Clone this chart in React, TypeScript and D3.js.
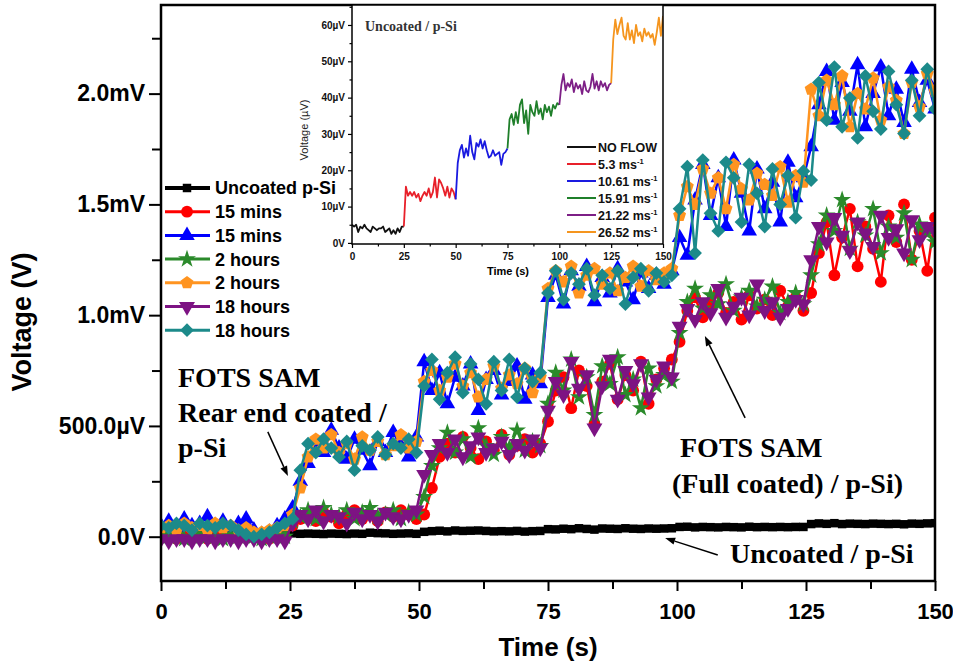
import React, { useEffect, useRef } from 'react';
import * as d3 from 'd3';

const W = 953;
const H = 670;

// Sampling interval of the main recordings (s)
const TIME_STEP = 1.5;

// Main chart: voltage in mV, one sample every TIME_STEP seconds from 0 to 150 s
const uncoatedPSi = [
  0.005, 0.004, 0.005, 0.003, 0.004, 0.004, 0.005, 0.004, 0.003, 0.004, 0.004, 0.003, 0.004, 0.003, 0.004, 0.003, 0.004,
  0.015, 0.013, 0.014, 0.013, 0.012, 0.014, 0.013, 0.012, 0.014, 0.013, 0.018, 0.016, 0.015, 0.013, 0.014, 0.015, 0.013,
  0.022, 0.025, 0.027, 0.024, 0.028, 0.026, 0.027, 0.028, 0.026, 0.024, 0.025, 0.024, 0.026, 0.023, 0.025, 0.026,
  0.034, 0.033, 0.036, 0.034, 0.038, 0.035, 0.032, 0.037, 0.036, 0.035, 0.038, 0.036, 0.035, 0.037, 0.036, 0.037, 0.038,
  0.044, 0.045, 0.042, 0.044, 0.043, 0.042, 0.044, 0.043, 0.042, 0.045, 0.043, 0.044, 0.043, 0.044, 0.043, 0.044, 0.044,
  0.057, 0.060, 0.058, 0.061, 0.057, 0.059, 0.058, 0.057, 0.059, 0.058, 0.057, 0.058, 0.056, 0.059, 0.058, 0.060, 0.061,
];

const full15min = [
  0.00, 0.01, -0.01, 0.00, 0.01, 0.00, -0.01, 0.00, 0.01, 0.00, -0.01, 0.00, 0.00, 0.01, -0.01, 0.00, 0.00,
  0.05, 0.08, 0.10, 0.07, 0.11, 0.09, 0.06, 0.10, 0.12, 0.08, 0.10, 0.07, 0.11, 0.09, 0.12, 0.10, 0.08,
  0.10, 0.22, 0.36, 0.42, 0.38, 0.45, 0.40, 0.35, 0.43, 0.39, 0.46, 0.37, 0.41, 0.44, 0.38, 0.42,
  0.52, 0.66, 0.72, 0.58, 0.75, 0.68, 0.51, 0.70, 0.78, 0.62, 0.73, 0.66, 0.79, 0.60, 0.71, 0.76, 0.80,
  0.88, 1.02, 1.08, 0.99, 1.05, 1.10, 1.01, 1.06, 0.98, 1.09, 1.03, 1.07, 1.00, 1.11, 1.04, 1.08, 1.02,
  1.10, 1.28, 1.42, 1.18, 1.35, 1.48, 1.22, 1.40, 1.30, 1.15, 1.45, 1.33, 1.50, 1.25, 1.38, 1.20, 1.44,
];

const rear15min = [
  0.05, 0.07, 0.04, 0.08, 0.05, 0.06, 0.09, 0.05, 0.07, 0.04, 0.06, 0.08, 0.03, 0.01, 0.02, 0.05, 0.08,
  0.13, 0.25, 0.33, 0.42, 0.38, 0.48, 0.40, 0.35, 0.44, 0.39, 0.32, 0.43, 0.38, 0.47, 0.41, 0.36, 0.45,
  0.79, 0.66, 0.74, 0.60, 0.72, 0.68, 0.78, 0.57, 0.71, 0.75, 0.64, 0.70, 0.77, 0.62, 0.73, 0.69,
  1.08, 1.18, 1.05, 1.20, 1.13, 1.22, 1.06, 1.17, 1.10, 1.21, 1.15, 1.07, 1.19, 1.12, 1.18, 1.14, 1.20,
  1.35, 1.27, 1.52, 1.68, 1.45, 1.62, 1.40, 1.70, 1.55, 1.38, 1.66, 1.48, 1.60, 1.42, 1.69, 1.53, 1.62,
  1.76, 1.95, 2.10, 1.88, 2.05, 1.92, 2.13, 1.85, 2.00, 2.12, 1.90, 2.02, 1.87, 2.11, 1.96, 2.06, 1.93,
];

const full2h = [
  0.01, 0.00, 0.01, -0.01, 0.00, 0.01, 0.00, 0.00, -0.01, 0.01, 0.00, 0.01, 0.00, -0.01, 0.00, 0.01, 0.00,
  0.07, 0.09, 0.12, 0.08, 0.13, 0.10, 0.09, 0.12, 0.08, 0.11, 0.13, 0.09, 0.10, 0.12, 0.08, 0.11, 0.10,
  0.18, 0.32, 0.40, 0.47, 0.38, 0.44, 0.36, 0.49, 0.41, 0.37, 0.45, 0.40, 0.48, 0.39, 0.43, 0.41,
  0.60, 0.74, 0.66, 0.80, 0.63, 0.72, 0.55, 0.77, 0.69, 0.81, 0.64, 0.71, 0.58, 0.76, 0.68, 0.73, 0.70,
  0.92, 1.06, 1.12, 1.03, 1.09, 1.05, 1.14, 1.02, 1.08, 1.11, 1.04, 1.07, 1.13, 1.01, 1.06, 1.10, 1.05,
  1.18, 1.32, 1.45, 1.38, 1.52, 1.30, 1.42, 1.36, 1.48, 1.28, 1.40, 1.35, 1.46, 1.25, 1.41, 1.37, 1.33,
];

const rear2h = [
  0.04, 0.05, 0.03, 0.06, 0.04, 0.05, 0.03, 0.06, 0.04, 0.05, 0.03, 0.04, 0.02, 0.02, 0.03, 0.04, 0.05,
  0.10, 0.22, 0.36, 0.44, 0.40, 0.46, 0.38, 0.42, 0.35, 0.45, 0.39, 0.43, 0.37, 0.41, 0.46, 0.40, 0.43,
  0.70, 0.75, 0.66, 0.72, 0.78, 0.68, 0.74, 0.63, 0.71, 0.77, 0.67, 0.73, 0.69, 0.76, 0.65, 0.72,
  1.12, 1.20, 1.15, 1.22, 1.10, 1.18, 1.21, 1.14, 1.19, 1.11, 1.17, 1.22, 1.13, 1.20, 1.16, 1.19, 1.21,
  1.45, 1.58, 1.50, 1.66, 1.55, 1.62, 1.48, 1.68, 1.57, 1.52, 1.64, 1.59, 1.54, 1.67, 1.51, 1.63, 1.60,
  2.02, 1.90, 2.06, 1.95, 2.08, 1.85, 2.00, 1.93, 2.07, 1.88, 2.03, 1.97, 1.82, 2.05, 1.94, 2.09, 2.01,
];

const full18h = [
  -0.01, -0.02, -0.01, -0.01, -0.02, -0.01, -0.01, -0.02, -0.01, -0.01, -0.02, -0.01, -0.01, -0.02, -0.01, -0.01, -0.02,
  0.06, 0.10, 0.08, 0.12, 0.07, 0.10, 0.09, 0.06, 0.11, 0.08, 0.10, 0.07, 0.11, 0.09, 0.08, 0.10, 0.12,
  0.28, 0.37, 0.42, 0.38, 0.44, 0.36, 0.41, 0.45, 0.38, 0.40, 0.43, 0.37, 0.42, 0.39, 0.44, 0.40,
  0.57, 0.70, 0.64, 0.79, 0.67, 0.73, 0.49, 0.68, 0.80, 0.62, 0.75, 0.69, 0.78, 0.63, 0.71, 0.77, 0.72,
  0.95, 1.03, 0.98, 1.06, 1.01, 1.12, 0.99, 1.04, 1.08, 1.00, 1.14, 1.02, 1.06, 0.99, 1.03, 1.07, 1.05,
  1.25, 1.40, 1.33, 1.44, 1.36, 1.29, 1.42, 1.37, 1.31, 1.45, 1.35, 1.39, 1.28, 1.43, 1.34, 1.40, 1.38,
];

const rear18h = [
  0.05, 0.04, 0.06, 0.05, 0.03, 0.06, 0.05, 0.04, 0.06, 0.05, 0.03, 0.01, 0.00, 0.01, 0.02, 0.04, 0.06,
  0.08, 0.30, 0.42, 0.38, 0.44, 0.40, 0.36, 0.43, 0.30, 0.41, 0.39, 0.45, 0.37, 0.42, 0.40, 0.44, 0.38,
  0.68, 0.80, 0.62, 0.74, 0.81, 0.65, 0.78, 0.71, 0.60, 0.79, 0.66, 0.80, 0.63, 0.76, 0.70, 0.74,
  1.10, 1.20, 1.07, 1.19, 1.14, 1.21, 1.09, 1.18, 1.12, 1.20, 1.05, 1.17, 1.21, 1.11, 1.19, 1.15, 1.18,
  1.48, 1.67, 1.28, 1.70, 1.46, 1.38, 1.69, 1.62, 1.42, 1.68, 1.55, 1.40, 1.66, 1.50, 1.63, 1.44, 1.65,
  1.61, 2.05, 1.88, 2.12, 1.85, 1.98, 1.80, 2.08, 1.92, 1.84, 2.10, 1.95, 1.82, 2.06, 1.90, 2.11, 1.93,
];

// Series in drawing / legend order
const seriesValues = [uncoatedPSi, full15min, rear15min, full2h, rear2h, full18h, rear18h];
const seriesNames = ['Uncoated p-Si', '15 mins', '15 mins', '2 hours', '2 hours', '18 hours', '18 hours'];
const seriesColors = ['#000000', '#ff0000', '#0000ff', '#2b8a2b', '#ff9420', '#7d1383', '#1c8a8a'];
const seriesSymbols = ['square', 'circle', 'triangle', 'star', 'pentagon', 'triangleDown', 'diamond'];

const xTickValues = [0, 25, 50, 75, 100, 125, 150];
const yTickValues = [0, 0.5, 1.0, 1.5, 2.0];
const yTickLabels = ['0.0V', '500.0\u00b5V', '1.0mV', '1.5mV', '2.0mV'];

// Inset: uncoated p-Si, voltage in µV, one sample per second from 0 to 150 s
const insetVoltage = [
  5, 4.5, 5, 3, 4.5, 4, 5, 4, 3.5, 3, 4.5, 4, 3.5, 4, 4, 4.5, 3, 3.5, 4, 2.5, 3.5, 2.5, 4, 3, 4.5, 4.5,
  15.5, 13, 14, 13, 14, 12.5, 13.5, 11.5, 13, 14, 13, 15, 12.5, 14, 18, 12.5, 17.5, 16.5, 15, 13, 15.5, 12.5, 15, 14, 12,
  22, 25.5, 27, 23.5, 26, 24, 29.5, 25, 23, 27.5, 26.5, 28.5, 26, 28, 25.5, 23.5, 24, 25.5, 24, 24.5, 25, 21.5, 24.5, 25, 26,
  34, 35.5, 32.5, 36, 33, 38, 39.5, 33, 36.5, 30, 38, 36, 35, 39, 35.5, 37, 34, 38, 36, 37.5, 35, 38, 37, 38.5, 38,
  43.5, 46.5, 42, 44, 43, 45, 41.5, 44, 42.5, 43.5, 41, 44.5, 42, 41.5, 43, 46.5, 42.5, 44.5, 42, 44.5, 43, 44, 42, 43.5, 44,
  56, 61.5, 57.5, 60, 62, 57, 56, 60.5, 56, 58.5, 55, 60, 57, 58, 55.5, 59, 57, 58, 56.5, 57.5, 54.5, 58, 62, 57, 62.5,
];
const flowLabels = ['NO FLOW', '5.3 ms', '10.61 ms', '15.91 ms', '21.22 ms', '26.52 ms'];
const flowHasUnit = [false, true, true, true, true, true];
const flowColors = ['#111111', '#e8202a', '#1a1ae0', '#1f7f2a', '#7d1f86', '#f5951e'];
const flowStart = [0, 25, 50, 75, 100, 125];
const insetXTicks = [0, 25, 50, 75, 100, 125, 150];
const insetYTicks = [0, 10, 20, 30, 40, 50, 60];
const insetYLabels = ['0V', '10\u00b5V', '20\u00b5V', '30\u00b5V', '40\u00b5V', '50\u00b5V', '60\u00b5V'];

const SANS = "'Liberation Sans', Arial, sans-serif";
const SERIF = "'Liberation Serif', 'Times New Roman', serif";

function pentagonPath(r: number) {
  const pts = d3.range(5).map((k) => {
    const a = -Math.PI / 2 + (k * 2 * Math.PI) / 5;
    return [r * Math.cos(a), r * Math.sin(a)];
  });
  return 'M' + pts.map((p) => p[0].toFixed(2) + ',' + p[1].toFixed(2)).join('L') + 'Z';
}

function markerShape(kind: string): { d: string; rot: number } {
  switch (kind) {
    case 'square':
      return { d: d3.symbol(d3.symbolSquare, 72)()!, rot: 0 };
    case 'circle':
      return { d: d3.symbol(d3.symbolCircle, 110)()!, rot: 0 };
    case 'triangle':
      return { d: d3.symbol(d3.symbolTriangle, 105)()!, rot: 0 };
    case 'star':
      return { d: d3.symbol(d3.symbolStar, 100)()!, rot: 0 };
    case 'pentagon':
      return { d: pentagonPath(6.8), rot: 0 };
    case 'triangleDown':
      return { d: d3.symbol(d3.symbolTriangle, 110)()!, rot: 180 };
    case 'diamond':
    default:
      return { d: d3.symbol(d3.symbolSquare, 95)()!, rot: 45 };
  }
}

export default function App() {
  const ref = useRef<SVGSVGElement>(null);

  useEffect(() => {
    const svg = d3.select(ref.current!);
    svg.selectAll('*').remove();

    const x = d3.scaleLinear().domain([0, 150]).range([161, 935]);
    const y = d3.scaleLinear().domain([-0.2, 2.4]).range([581, 5]);

    svg.append('rect').attr('width', W).attr('height', H).attr('fill', '#ffffff');

    const defs = svg.append('defs');
    defs.append('clipPath').attr('id', 'main-clip')
      .append('rect').attr('x', 161).attr('y', 5).attr('width', 774).attr('height', 576);
    defs.append('clipPath').attr('id', 'inset-clip')
      .append('rect').attr('x', 352).attr('y', 5).attr('width', 311).attr('height', 239);

    // ---- main axes ----
    const styleAxis = (g: d3.Selection<SVGGElement, unknown, null, undefined>, size: number) => {
      g.select('.domain').remove();
      g.selectAll('line').attr('stroke', '#000').attr('stroke-width', 2);
      g.selectAll('text').attr('font-family', SANS).attr('font-weight', 'bold')
        .attr('font-size', size).attr('fill', '#000');
    };

    const gx = svg.append('g').attr('transform', 'translate(0,581)')
      .call(d3.axisBottom(x).tickValues(xTickValues).tickSize(10).tickPadding(12).tickFormat((d) => String(d)));
    styleAxis(gx, 22);
    const gxm = svg.append('g').attr('transform', 'translate(0,581)')
      .call(d3.axisBottom(x).tickValues(xTickValues.slice(0, -1).map((v) => v + 12.5)).tickSize(8).tickFormat(() => ''));
    styleAxis(gxm, 22);

    const gy = svg.append('g').attr('transform', 'translate(161,0)')
      .call(d3.axisLeft(y).tickValues(yTickValues).tickSize(12).tickPadding(4)
        .tickFormat((_d, i) => yTickLabels[i]));
    styleAxis(gy, 23);
    const gym = svg.append('g').attr('transform', 'translate(161,0)')
      .call(d3.axisLeft(y).tickValues([0.25, 0.75, 1.25, 1.75, 2.25]).tickSize(9).tickFormat(() => ''));
    styleAxis(gym, 23);

    // ---- series ----
    const plot = svg.append('g').attr('clip-path', 'url(#main-clip)');
    seriesValues.forEach((vals, s) => {
      const pts = vals.map((v, i) => [i * TIME_STEP, v] as [number, number]);
      const line = d3.line<[number, number]>().x((p) => x(p[0])).y((p) => y(p[1]));
      plot.append('path').attr('d', line(pts)!).attr('fill', 'none')
        .attr('stroke', seriesColors[s]).attr('stroke-width', s === 0 ? 5 : 2.5)
        .attr('stroke-linejoin', 'round');
      const shape = markerShape(seriesSymbols[s]);
      plot.append('g').selectAll('path').data(pts).join('path')
        .attr('d', shape.d)
        .attr('transform', (p) => `translate(${x(p[0])},${y(p[1])}) rotate(${shape.rot})`)
        .attr('fill', seriesColors[s]);
    });

    // frame
    svg.append('rect').attr('x', 161).attr('y', 5).attr('width', 774).attr('height', 576)
      .attr('fill', 'none').attr('stroke', '#000').attr('stroke-width', 2.5);

    // ---- axis titles ----
    svg.append('text').attr('x', 548).attr('y', 656).attr('text-anchor', 'middle')
      .attr('font-family', SANS).attr('font-weight', 'bold').attr('font-size', 26).text('Time (s)');
    svg.append('text').attr('transform', 'translate(31,322) rotate(-90)').attr('text-anchor', 'middle')
      .attr('font-family', SANS).attr('font-weight', 'bold').attr('font-size', 27).text('Voltage (V)');

    // ---- legend ----
    const legend = svg.append('g');
    seriesNames.forEach((name, s) => {
      const ly = 188 + s * 23.7;
      legend.append('line').attr('x1', 165).attr('x2', 210).attr('y1', ly).attr('y2', ly)
        .attr('stroke', seriesColors[s]).attr('stroke-width', s === 0 ? 4 : 3);
      const shape = markerShape(seriesSymbols[s]);
      legend.append('path').attr('d', shape.d)
        .attr('transform', `translate(187,${ly}) rotate(${shape.rot})`).attr('fill', seriesColors[s]);
      legend.append('text').attr('x', 215).attr('y', ly).attr('dy', '0.36em')
        .attr('font-family', SANS).attr('font-weight', 'bold').attr('font-size', 18).text(name);
    });

    // ---- annotations ----
    const serifText = (tx: number, ty: number, str: string) =>
      svg.append('text').attr('x', tx).attr('y', ty).attr('font-family', SERIF)
        .attr('font-weight', 'bold').attr('font-size', 28).attr('fill', '#000').text(str);
    serifText(178, 387, 'FOTS SAM');
    serifText(178, 422, 'Rear end coated /');
    serifText(178, 457, 'p-Si');
    serifText(680, 457, 'FOTS SAM');
    serifText(672, 493, '(Full coated) / p-Si)');
    serifText(730, 563, 'Uncoated / p-Si');

    const arrow = (t0: number, v0: number, t1: number, v1: number) => {
      const x0 = x(t0), y0 = y(v0), x1 = x(t1), y1 = y(v1);
      const ang = Math.atan2(y1 - y0, x1 - x0);
      const len = 10, half = 3.6;
      const bx = x1 - len * Math.cos(ang), by = y1 - len * Math.sin(ang);
      svg.append('line').attr('x1', x0).attr('y1', y0).attr('x2', bx).attr('y2', by)
        .attr('stroke', '#000').attr('stroke-width', 1.5);
      svg.append('path')
        .attr('d', `M${x1},${y1}L${bx - half * Math.sin(ang)},${by + half * Math.cos(ang)}L${bx + half * Math.sin(ang)},${by - half * Math.cos(ang)}Z`)
        .attr('fill', '#000');
    };
    arrow(20.7, 0.473, 24.6, 0.274);
    arrow(113.2, 0.536, 105.4, 0.906);
    arrow(107.9, -0.083, 97.7, -0.006);

    // ---- inset ----
    const xi = d3.scaleLinear().domain([0, 150]).range([352, 663]);
    const yi = d3.scaleLinear().domain([-0.3, 65.5]).range([244, 5]);
    svg.append('rect').attr('x', 352).attr('y', 5).attr('width', 311).attr('height', 239).attr('fill', '#fff');

    const styleInset = (g: d3.Selection<SVGGElement, unknown, null, undefined>, size: number) => {
      g.select('.domain').remove();
      g.selectAll('line').attr('stroke', '#000').attr('stroke-width', 1.2);
      g.selectAll('text').attr('font-family', SANS).attr('font-weight', 'bold')
        .attr('font-size', size).attr('fill', '#111');
    };
    const gix = svg.append('g').attr('transform', 'translate(0,244)')
      .call(d3.axisBottom(xi).tickValues(insetXTicks).tickSize(4).tickPadding(5).tickFormat((d) => String(d)));
    styleInset(gix, 10);
    const gixm = svg.append('g').attr('transform', 'translate(0,244)')
      .call(d3.axisBottom(xi).tickValues(insetXTicks.slice(0, -1).map((v) => v + 12.5)).tickSize(2.5).tickFormat(() => ''));
    styleInset(gixm, 10);
    const giy = svg.append('g').attr('transform', 'translate(352,0)')
      .call(d3.axisLeft(yi).tickValues(insetYTicks).tickSize(4).tickPadding(3)
        .tickFormat((_d, i) => insetYLabels[i]));
    styleInset(giy, 10);
    const giym = svg.append('g').attr('transform', 'translate(352,0)')
      .call(d3.axisLeft(yi).tickValues([5, 15, 25, 35, 45, 55, 65]).tickSize(2.5).tickFormat(() => ''));
    styleInset(giym, 10);

    const insetPlot = svg.append('g').attr('clip-path', 'url(#inset-clip)');
    const lineGen = d3.line<[number, number]>().x((p) => xi(p[0])).y((p) => yi(p[1]));
    flowStart.forEach((start, k) => {
      const pts = d3.range(start, start + 26).map((t) => [t, insetVoltage[t]] as [number, number]);
      insetPlot.append('path').attr('d', lineGen(pts)!).attr('fill', 'none')
        .attr('stroke', flowColors[k]).attr('stroke-width', 1.8).attr('stroke-linejoin', 'round');
    });

    svg.append('rect').attr('x', 352).attr('y', 5).attr('width', 311).attr('height', 239)
      .attr('fill', 'none').attr('stroke', '#000').attr('stroke-width', 1.5);

    svg.append('text').attr('x', 365).attr('y', 31).attr('font-family', SERIF)
      .attr('font-weight', 'bold').attr('font-size', 14).attr('fill', '#333').text('Uncoated / p-Si');
    svg.append('text').attr('x', 508).attr('y', 275).attr('text-anchor', 'middle')
      .attr('font-family', SANS).attr('font-weight', 'bold').attr('font-size', 11).text('Time (s)');
    svg.append('text').attr('transform', 'translate(308,130) rotate(-90)').attr('text-anchor', 'middle')
      .attr('font-family', SANS).attr('font-size', 11).attr('fill', '#222').text('Voltage (\u00b5V)');

    // inset legend
    flowLabels.forEach((label, k) => {
      const ly = 147 + k * 17;
      svg.append('line').attr('x1', 567).attr('x2', 596).attr('y1', ly).attr('y2', ly)
        .attr('stroke', flowColors[k]).attr('stroke-width', 2);
      const t = svg.append('text').attr('x', 598).attr('y', ly).attr('dy', '0.36em')
        .attr('font-family', SANS).attr('font-weight', 'bold').attr('font-size', 12.5).attr('fill', '#111');
      t.append('tspan').text(label);
      if (flowHasUnit[k]) {
        t.append('tspan').attr('dy', -5).attr('font-size', 7.5).text('-1');
      }
    });
  }, []);

  return (
    <svg
      ref={ref}
      width={W}
      height={H}
      style={{ position: 'absolute', left: 0, top: 0, display: 'block' }}
    />
  );
}
